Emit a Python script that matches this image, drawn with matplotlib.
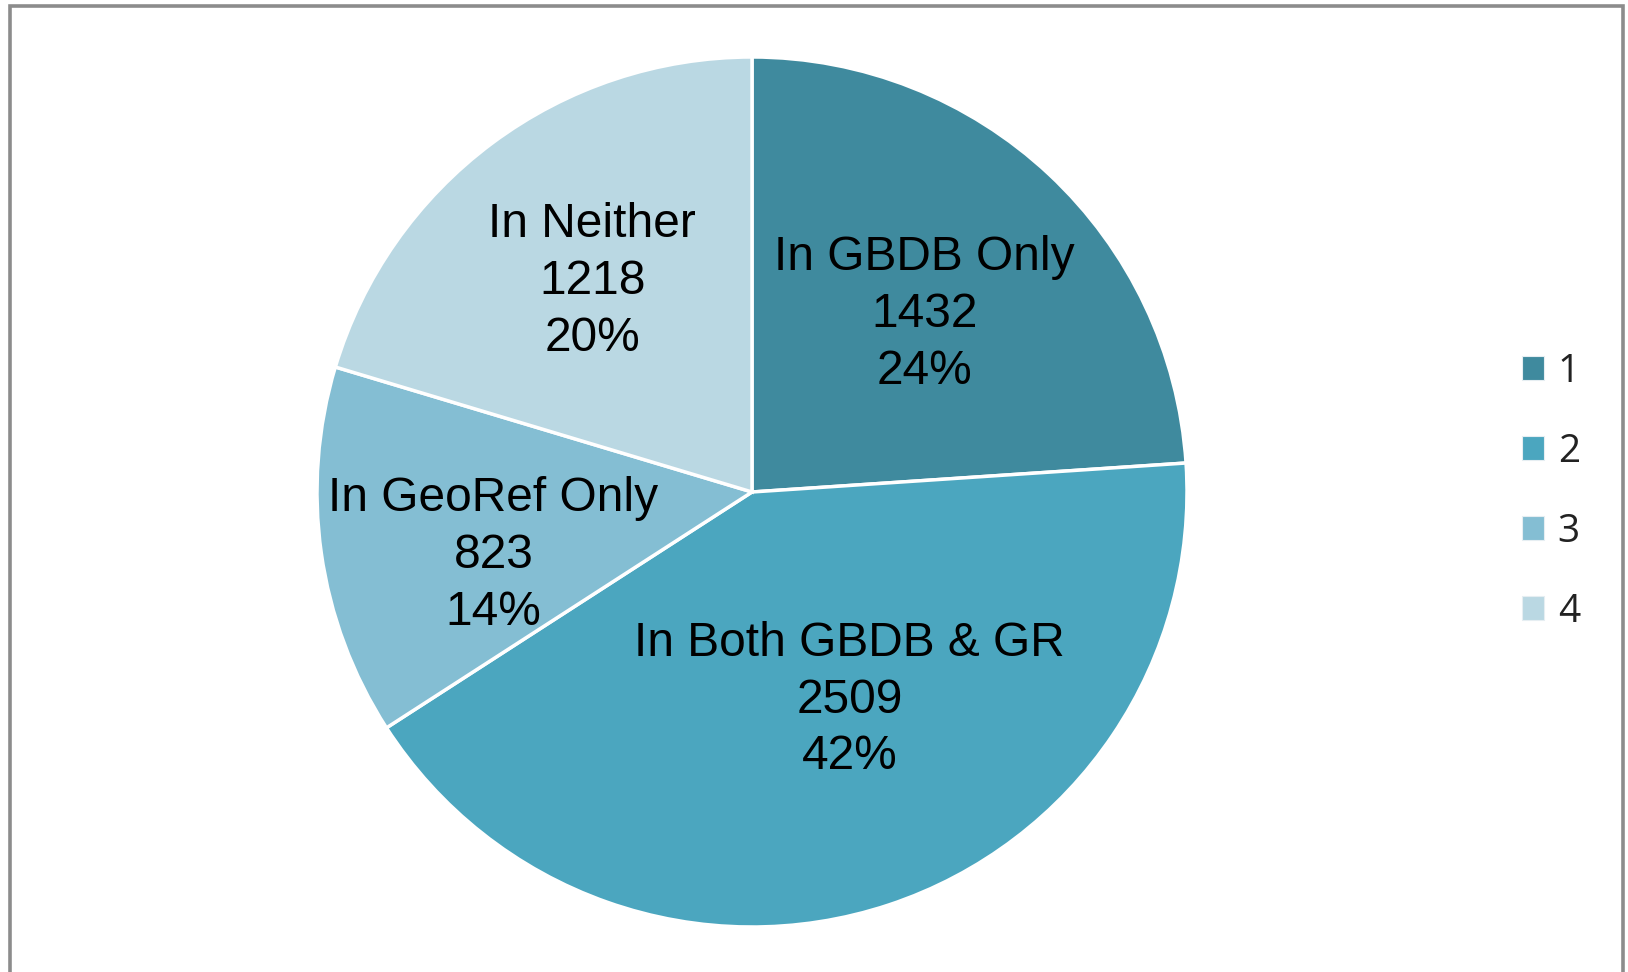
import numpy as np
import matplotlib as mpl
mpl.use('Agg')
import matplotlib.pyplot as plt
from matplotlib.patches import Rectangle, Patch

# data
names = ["In GBDB Only", "In Both GBDB & GR", "In GeoRef Only", "In Neither"]
counts = [1432, 2509, 823, 1218]
percents = ["24%", "42%", "14%", "20%"]
legend_labels = ["1", "2", "3", "4"]
colors = ["#3F8A9E", "#4BA6BF", "#84BED3", "#BAD8E3"]

# label placement tweaks (distance in radius units, angle nudge in degrees)
label_dist = [0.575, 0.52, 0.61, 0.615]
label_nudge = [-0.4, 7.2, 5.0, 0.0]

plt.rcParams['font.family'] = ['Liberation Sans', 'DejaVu Sans']

fig = plt.figure(figsize=(16.28, 9.72), dpi=100)
fig.patch.set_facecolor('white')

# outer chart border (bottom edge runs off the image)
fig.patches.append(Rectangle((9.5 / 1628, -0.05), (1622.5 - 9.5) / 1628, 1.05 - 6.5 / 972,
                             transform=fig.transFigure, fill=False,
                             edgecolor='#8C8C8C', linewidth=2.6))

cx, cy, r = 752, 492, 435
ax = fig.add_axes([(cx - r) / 1628, 1 - (cy + r) / 972, 2 * r / 1628, 2 * r / 972])
wedges, _ = ax.pie(counts, colors=colors, startangle=90, counterclock=False,
                   radius=1.0,
                   wedgeprops=dict(edgecolor='white', linewidth=2.5))
ax.set_xlim(-1, 1)
ax.set_ylim(-1, 1)
ax.set_aspect('equal')
ax.axis('off')

for w, name, n, p, d, nud in zip(wedges, names, counts, percents, label_dist, label_nudge):
    ang = np.deg2rad((w.theta1 + w.theta2) / 2 + nud)
    ax.text(d * np.cos(ang), d * np.sin(ang) - 0.009, "%s\n%d\n%s" % (name, n, p),
            ha='center', va='center', fontsize=34.5, color='black', linespacing=1.34)

handles = [Patch(facecolor=c, edgecolor='#E6EEF2', linewidth=0.8) for c in colors]
leg = fig.legend(handles, legend_labels, loc='center left',
                 bbox_to_anchor=(1522 / 1628, 1 - 492 / 972),
                 frameon=False, handlelength=0.57, handleheight=0.57,
                 handletextpad=0.35, labelspacing=1.08,
                 borderpad=0, borderaxespad=0,
                 prop={'family': ['Open Sans', 'DejaVu Sans'], 'size': 28})
for t in leg.get_texts():
    t.set_color('#222222')

plt.savefig("out.png", dpi=100)
